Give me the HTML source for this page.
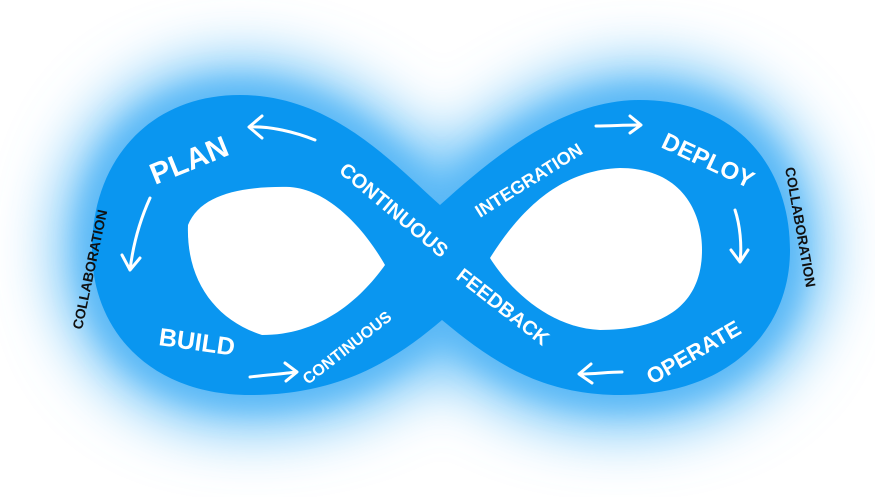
<!DOCTYPE html>
<html><head><style>
html,body{margin:0;padding:0;background:#fff;}
svg{display:block;}
text{font-family:"Liberation Sans",sans-serif;font-weight:bold;}
</style></head><body>
<svg width="875" height="497" viewBox="0 0 875 497" xmlns="http://www.w3.org/2000/svg">
<defs>
<filter id="b" x="-30%" y="-50%" width="160%" height="200%"><feGaussianBlur stdDeviation="30"/></filter>
<filter id="b2" x="-30%" y="-50%" width="160%" height="200%"><feGaussianBlur stdDeviation="14"/></filter>
</defs>
<path d="M92,250 C92,160 150,95 240,95 C330,95 390,160 440,205 C490,160 560,100 640,100 C740,100 790,170 790,250 C790,330 730,395 620,395 C540,395 490,360 442,320 C395,360 340,395 250,395 C150,395 92,330 92,250Z" fill="#6cc2f8" stroke="#6cc2f8" stroke-width="70" filter="url(#b)"/>
<path d="M92,250 C92,160 150,95 240,95 C330,95 390,160 440,205 C490,160 560,100 640,100 C740,100 790,170 790,250 C790,330 730,395 620,395 C540,395 490,360 442,320 C395,360 340,395 250,395 C150,395 92,330 92,250Z" fill="#5ab8f6" stroke="#5ab8f6" stroke-width="24" filter="url(#b2)"/>
<path d="M92,250 C92,160 150,95 240,95 C330,95 390,160 440,205 C490,160 560,100 640,100 C740,100 790,170 790,250 C790,330 730,395 620,395 C540,395 490,360 442,320 C395,360 340,395 250,395 C150,395 92,330 92,250Z" fill="#0a96f0"/>
<path d="M188,225 C200,195 240,186 290,187 C330,190 365,230 385,265 C360,300 320,335 262,335 C215,320 186,280 188,225Z" fill="#fff"/>
<path d="M490,258 C520,210 560,170 620,168 C680,168 702,210 702,250 C702,300 670,330 600,330 C550,328 510,290 490,258Z" fill="#fff"/>
<g fill="#fff">
<text x="0" y="0" font-size="30" transform="translate(155,185) rotate(-22)">PLAN</text>
<text x="0" y="0" font-size="25" transform="translate(158,345) rotate(8)">BUILD</text>
<text x="0" y="0" font-size="16" transform="translate(308,385) rotate(-38)">CONTINUOUS</text>
<text x="0" y="0" font-size="20" transform="translate(338,172) rotate(40)">CONTINUOUS</text>
<text x="0" y="0" font-size="20" transform="translate(455,278) rotate(38)">FEEDBACK</text>
<text x="0" y="0" font-size="18" transform="translate(480,218) rotate(-32)">INTEGRATION</text>
<text x="0" y="0" font-size="24" transform="translate(660,147) rotate(25)">DEPLOY</text>
<text x="0" y="0" font-size="22" transform="translate(652,385) rotate(-30)">OPERATE</text>
</g>
<g fill="#111" font-size="14">
<text x="0" y="0" transform="translate(82,330) rotate(-78)">COLLABORATION</text>
<text x="0" y="0" transform="translate(785,168) rotate(80)">COLLABORATION</text>
</g>
<g fill="none" stroke="#fff" stroke-width="3" stroke-linecap="round" stroke-linejoin="round">
<path d="M315,140 C295,132 270,126 250,127 M262,116 L249,127 L262,138"/>
<path d="M150,198 C140,220 133,245 130,270 M122,255 L130,270 L140,258"/>
<path d="M250,377 C265,375 282,374 296,372 M285,363 L297,372 L286,381"/>
<path d="M596,126 C610,126 625,125 640,125 M630,116 L641,125 L630,133"/>
<path d="M735,210 C740,225 742,245 740,262 M731,250 L740,262 L748,250"/>
<path d="M622,372 C608,372 595,374 580,374 M591,364 L579,374 L592,383"/>
</g>
</svg>
</body></html>
